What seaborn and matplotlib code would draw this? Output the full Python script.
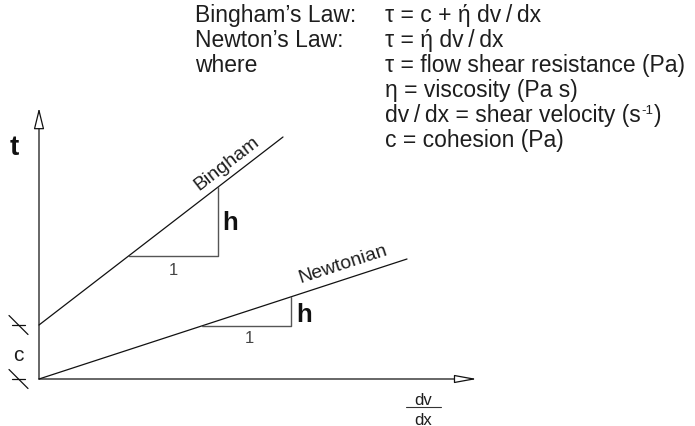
import numpy as np
import pandas as pd
import matplotlib
matplotlib.use("Agg")
import matplotlib.pyplot as plt
import seaborn as sns

# ---- data (diagram units, 1 unit ~ 1 px, origin at axes crossing) ----
bingham_x = [0, 244]
bingham_y = [54, 242]
newton_x = [0, 368]
newton_y = [0, 120]
bingham_tri_x = [90, 179, 179]
bingham_tri_y = [123, 123, 192]
newton_tri_x = [163, 252, 252]
newton_tri_y = [53, 53, 82]
cohesion = 54
axis_x_end = 438
axis_y_end = 271

left_labels = ["Bingham\u2019s Law:", "Newton\u2019s Law:", "where", "", "", ""]
right_labels = [
    "\u03c4 = c + \u03ae dv\u2009/\u2009dx",
    "\u03c4 = \u03ae dv\u2009/\u2009dx",
    "\u03c4 = flow shear resistance (Pa)",
    "\u03b7 = viscosity (Pa s)",
    "dv\u2009/\u2009dx = shear velocity (s",
    "c = cohesion (Pa)",
]
superscript = "-1"

sns.set_theme(style="white")
plt.rcParams["font.family"] = ["Liberation Sans", "DejaVu Sans"]

TXT = "#1e1e1e"
fig = plt.figure(figsize=(6.95, 4.27), dpi=100)
ax = fig.add_axes([0, 0, 1, 1])
ax.set_xlim(-39, 656)
ax.set_ylim(-47, 380)
ax.axis("off")

# main lines
sns.lineplot(x=bingham_x, y=bingham_y, ax=ax, color="#111111", lw=0.9,
             estimator=None, sort=False)
sns.lineplot(x=newton_x, y=newton_y, ax=ax, color="#111111", lw=0.9,
             estimator=None, sort=False)
# slope triangles
sns.lineplot(x=bingham_tri_x, y=bingham_tri_y, ax=ax, color="#555555", lw=1.0,
             estimator=None, sort=False)
sns.lineplot(x=newton_tri_x, y=newton_tri_y, ax=ax, color="#555555", lw=1.0,
             estimator=None, sort=False)

# axes with open arrow heads
ax.annotate("", xy=(0, axis_y_end), xytext=(0, 0),
            arrowprops=dict(arrowstyle="-|>,head_length=1.3,head_width=0.32",
                            mutation_scale=10, fc="white", ec="#111111",
                            lw=0.9, shrinkA=0, shrinkB=0))
ax.annotate("", xy=(axis_x_end, 0), xytext=(0, 0),
            arrowprops=dict(arrowstyle="-|>,head_length=1.37,head_width=0.25",
                            mutation_scale=10, fc="white", ec="#111111",
                            lw=0.9, shrinkA=0, shrinkB=0))

# cohesion dimension marks
for lvl in [0, cohesion]:
    ax.plot([-27, -14], [lvl, lvl], color="#111111", lw=0.9)
    ax.plot([-30, -11], [lvl + 9.5, lvl - 9.5], color="#111111", lw=0.9)
ax.text(-21, 19, "c", fontsize=15, color=TXT, ha="center", va="baseline")
ax.text(-24.4, 225, "t", fontsize=20, fontweight="bold", color="#111111",
        ha="center", va="baseline")

# line labels
ang_b = np.degrees(np.arctan2(bingham_y[1] - bingham_y[0], bingham_x[1] - bingham_x[0]))
ang_n = np.degrees(np.arctan2(newton_y[1] - newton_y[0], newton_x[1] - newton_x[0]))
ax.text(191, 213, "Bingham", fontsize=14, color=TXT, rotation=ang_b,
        rotation_mode="anchor", ha="center", va="baseline")
ax.text(305, 111, "Newtonian", fontsize=14, color=TXT, rotation=ang_n,
        rotation_mode="anchor", ha="center", va="baseline")

# triangle labels
ax.text(191, 150, "h", fontsize=18.5, fontweight="bold", color="#111111",
        ha="center", va="baseline")
ax.text(265.5, 58, "h", fontsize=18.5, fontweight="bold", color="#111111",
        ha="center", va="baseline")
ax.text(134, 105, "1", fontsize=12, color="#444444", ha="center", va="baseline")
ax.text(210, 37, "1", fontsize=12, color="#444444", ha="center", va="baseline")

# dv/dx axis label
ax.text(384.5, -25, "dv", fontsize=12, color=TXT, ha="center", va="baseline")
ax.plot([367, 402], [-28, -28], color="#333333", lw=0.8)
ax.text(384.5, -45, "dx", fontsize=12, color=TXT, ha="center", va="baseline")

# equations block
base0 = 380 - 22
step = 25
fig.canvas.draw()
renderer = fig.canvas.get_renderer()
inv = ax.transData.inverted()
for i, (l, r) in enumerate(zip(left_labels, right_labels)):
    y = base0 - i * step
    if l:
        ax.text(156, y, l, fontsize=16.5, color=TXT, ha="left", va="baseline")
    t = ax.text(346, y, r, fontsize=16.5, color=TXT, ha="left", va="baseline")
    if r.endswith("(s"):
        bb = t.get_window_extent(renderer=renderer)
        x_end = inv.transform((bb.x1, bb.y0))[0]
        s = ax.text(x_end + 0.5, y + 8, superscript, fontsize=9.5, color=TXT,
                    ha="left", va="baseline")
        bb2 = s.get_window_extent(renderer=renderer)
        x_end2 = inv.transform((bb2.x1, bb2.y0))[0]
        ax.text(x_end2 + 0.5, y, ")", fontsize=16.5, color=TXT,
                ha="left", va="baseline")

fig.savefig("out.png", dpi=100)
